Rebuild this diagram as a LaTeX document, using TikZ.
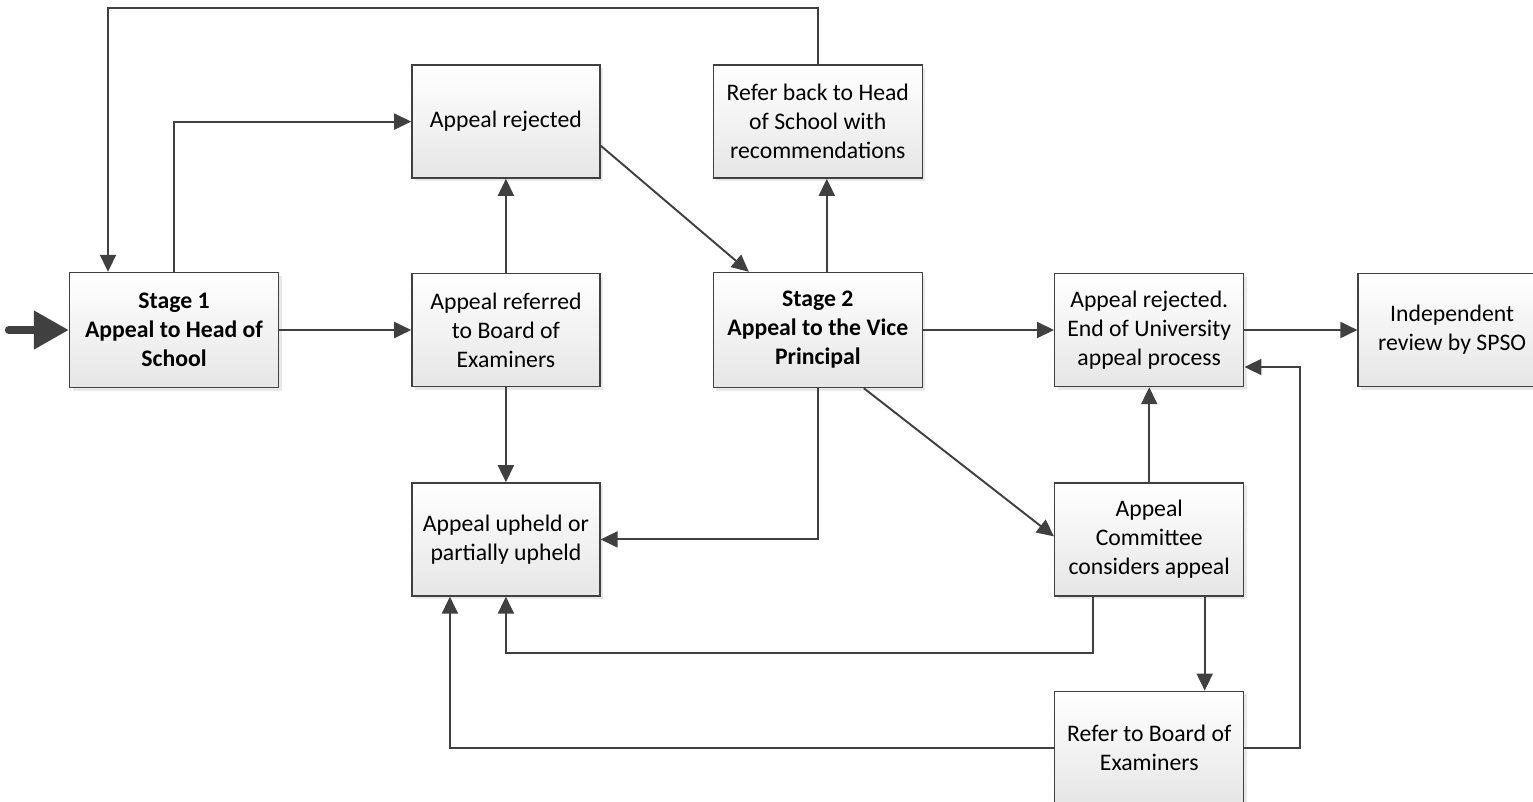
\documentclass[tikz,border=0pt]{standalone}
\usepackage{fontspec}
\setmainfont{Carlito}
\usetikzlibrary{arrows.meta, positioning, shadows}
\definecolor{linegray}{HTML}{404040}
\definecolor{boxbottom}{HTML}{E6E6E6}

\begin{document}
\begin{tikzpicture}[
  box/.style={draw=linegray, line width=0.8pt, rectangle, top color=white, bottom color=boxbottom, drop shadow={shadow xshift=0.06cm, shadow yshift=-0.06cm, opacity=0.18, fill=gray}, minimum width=3.76cm, minimum height=2.26cm, align=center, inner sep=0pt, font=\fontsize{13.5}{16.5}\selectfont},
  stagebox/.style={box, minimum width=4.18cm, minimum height=2.3cm, font=\fontsize{13.5}{16.5}\selectfont\bfseries},
  arrow/.style={draw=linegray, line width=1.1pt, -{Triangle[length=0.34cm, width=0.32cm]}},
  bigarrow/.style={draw=linegray, line width=4.5pt, line cap=round, -{Triangle[length=0.7cm, width=0.74cm]}}
]
  \useasboundingbox (0,0) rectangle (30.66,-16.02);

  \node (stage1) [stagebox] at (3.48,-6.6) {Stage 1\\Appeal to Head of\\School};
  \node (referred) [box, right=2.64cm of stage1] {Appeal referred\\to Board of\\Examiners};
  \node (rejected) [box, above=1.88cm of referred] {Appeal rejected};
  \node (upheld) [box, below=1.9cm of referred] {Appeal upheld or\\partially upheld};
  \node (stage2) [stagebox, right=2.24cm of referred] {Stage 2\\Appeal to the Vice\\Principal};
  \node (referback) [box, minimum width=4.18cm, above=1.86cm of stage2] {Refer back to Head\\of School with\\recommendations};
  \node (end) [box, minimum width=3.78cm, right=2.62cm of stage2] {Appeal rejected.\\End of University\\appeal process};
  \node (spso) [box, right=2.26cm of end] {Independent\\review by SPSO};
  \node (committee) [box, minimum width=3.78cm, below=1.9cm of end] {Appeal\\Committee\\considers appeal};
  \node (board) [box, minimum width=3.78cm, below=1.88cm of committee] {Refer to Board of\\Examiners};

  \coordinate (entry) at ([xshift=-1.2cm]stage1.west);
  \draw [bigarrow] (entry) -- (stage1.west);

  \draw [arrow] (stage1) -- (referred);
  \draw [arrow] (stage1.north) |- (rejected.west);
  \draw [arrow] (referback.north) -- ++(0,1.12) -| ([xshift=-1.32cm]stage1.north);
  \draw [arrow] (referred) -- (rejected);
  \draw [arrow] (referred) -- (upheld);
  \draw [arrow] ([yshift=-0.48cm]rejected.east) -- ([xshift=-1.38cm]stage2.north);
  \draw [arrow] ([xshift=0.18cm]stage2.north) -- ([xshift=0.18cm]referback.south);
  \draw [arrow] (stage2.east) -- (end.west);
  \draw [arrow] (stage2.south) |- (upheld.east);
  \draw [arrow] ([xshift=0.92cm]stage2.south) -- ([yshift=0.06cm]committee.west);
  \draw [arrow] (committee) -- (end);
  \draw [arrow] (end) -- (spso);
  \draw [arrow] ([xshift=-1.13cm]committee.south) -- ++(0,-1.12) -| (upheld.south);
  \draw [arrow] ([xshift=1.11cm]committee.south) -- ([xshift=1.11cm]board.north);
  \draw [arrow] (board.west) -| ([xshift=-1.12cm]upheld.south);
  \draw [arrow] (board.east) -- ++(1.12,0) |- ([yshift=-0.74cm]end.east);
\end{tikzpicture}
\end{document}
